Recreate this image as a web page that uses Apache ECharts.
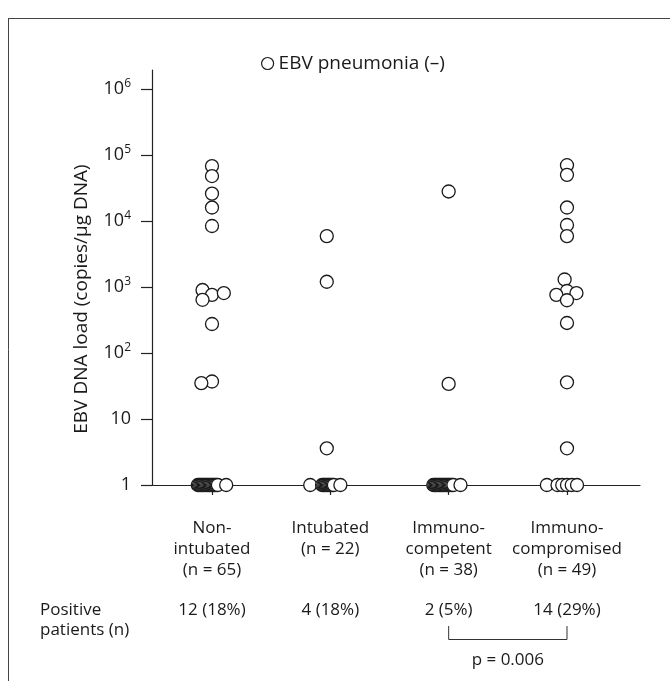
<!DOCTYPE html>
<html>
<head>
<meta charset="utf-8">
<script src="https://cdn.jsdelivr.net/npm/echarts@6/dist/echarts.min.js"></script>
<style>
html, body { margin: 0; padding: 0; background: #fff; }
#main { width: 670px; height: 681px; }
</style>
</head>
<body>
<div id="main"></div>
<script>
// groups along the x axis (placed at 1, 2, 3, 4)
var groupNames = ['Non-\nintubated\n(n = 65)', 'Intubated\n(n = 22)', 'Immuno-\ncompetent\n(n = 38)', 'Immuno-\ncompromised\n(n = 49)'];
var positiveLabels = ['12 (18%)', '4 (18%)', '2 (5%)', '14 (29%)'];
var yTicks = [1, 10, 100, 1000, 10000, 100000, 1000000];

// positive patients: EBV DNA load and small sideways shift from group centre
var nonIntubatedLoad  = [68000, 48000, 26000, 16000, 8400, 900, 760, 810, 640, 275, 37, 35];
var nonIntubatedShift = [0, 0, 0, 0, 0, -0.08, 0, 0.1, -0.08, 0, 0, -0.09];
var intubatedLoad  = [5900, 1200, 3.6];
var intubatedShift = [-0.03, -0.03, -0.03];
var competentLoad  = [28000, 34];
var competentShift = [0, 0];
var compromisedLoad  = [70000, 50000, 16000, 8700, 5900, 1300, 870, 760, 810, 630, 285, 36, 3.6];
var compromisedShift = [0, 0, 0, 0, 0, -0.02, 0, -0.09, 0.08, 0, 0, 0, 0];

// negative patients sit on the "1" line, only their sideways shift differs
var nonIntubatedBase = [-0.12, -0.11, -0.1, -0.09, -0.08, -0.07, -0.06, -0.05, -0.04, -0.03, -0.02, -0.01, 0, 0.01, 0.02, 0.03, 0.04, 0.05, 0.12];
var intubatedBase    = [-0.17, -0.07, -0.06, -0.05, -0.04, -0.03, -0.02, -0.01, 0, 0.01, 0.02, 0.03, 0.085];
var competentBase    = [-0.13, -0.12, -0.11, -0.1, -0.09, -0.08, -0.07, -0.06, -0.05, -0.04, -0.03, -0.02, -0.01, 0, 0.01, 0.02, 0.03, 0.04, 0.1];
var compromisedBase  = [-0.17, -0.08, -0.04, 0, 0.04, 0.085];

var FONT = '"Open Sans", "Noto Sans", sans-serif';

function addGroup(list, pos, loads, shifts) {
    for (var i = 0; i < loads.length; i++) {
        list.push([pos + shifts[i], loads[i]]);
    }
}
function addBase(list, pos, shifts) {
    for (var i = 0; i < shifts.length; i++) {
        list.push([pos + shifts[i], 1]);
    }
}

var points = [];
addBase(points, 1, nonIntubatedBase);
addBase(points, 2, intubatedBase);
addBase(points, 3, competentBase);
addBase(points, 4, compromisedBase);
addGroup(points, 1, nonIntubatedLoad, nonIntubatedShift);
addGroup(points, 2, intubatedLoad, intubatedShift);
addGroup(points, 3, competentLoad, competentShift);
addGroup(points, 4, compromisedLoad, compromisedShift);

var dom = document.getElementById('main');
var myChart = echarts.init(dom);

var option = {
    animation: false,
    backgroundColor: '#fff',
    textStyle: { fontFamily: FONT, color: '#1a1a1a' },
    legend: {
        data: ['EBV pneumonia (\u2013)'],
        left: 256,
        top: 49,
        icon: 'circle',
        itemWidth: 12,
        itemHeight: 12,
        itemGap: 6,
        itemStyle: { color: '#fff', borderColor: '#1a1a1a', borderWidth: 1.2 },
        textStyle: { fontFamily: FONT, fontSize: 19, color: '#1a1a1a' }
    },
    grid: {
        left: 152,
        right: 30,
        top: 70,
        bottom: 196
    },
    xAxis: {
        type: 'value',
        min: 0.493,
        max: 4.617,
        splitLine: { show: false },
        axisLine: { lineStyle: { color: '#222', width: 1.2 } },
        axisTick: {
            customValues: [1, 2, 3, 4],
            length: 10,
            lineStyle: { color: '#222', width: 1.2 }
        },
        axisLabel: {
            customValues: [1, 2, 3, 4],
            margin: 33,
            fontFamily: FONT,
            fontSize: 17,
            lineHeight: 21,
            color: '#1a1a1a',
            formatter: function (v) { return groupNames[Math.round(v) - 1]; }
        }
    },
    yAxis: {
        type: 'log',
        logBase: 10,
        min: 1,
        max: 1940000,
        splitLine: { show: false },
        axisLine: { show: true, lineStyle: { color: '#222', width: 1.2 } },
        axisTick: {
            customValues: yTicks,
            length: 11,
            lineStyle: { color: '#222', width: 1.2 }
        },
        axisLabel: {
            customValues: yTicks,
            margin: 21,
            fontFamily: FONT,
            fontSize: 18,
            color: '#1a1a1a',
            formatter: function (v) {
                var e = Math.round(Math.log(v) / Math.LN10);
                if (e === 0) return '{b|1}';
                if (e === 1) return '{b|10}';
                return '{b|10}{s|' + e + '}';
            },
            rich: {
                b: { fontFamily: FONT, fontSize: 18, lineHeight: 22, color: '#1a1a1a' },
                s: { fontFamily: FONT, fontSize: 12, lineHeight: 12, verticalAlign: 'top', color: '#1a1a1a' }
            }
        }
    },
    series: [{
        name: 'EBV pneumonia (\u2013)',
        type: 'scatter',
        symbol: 'circle',
        symbolSize: 13,
        clip: false,
        itemStyle: { color: '#fff', borderColor: '#1a1a1a', borderWidth: 1.3, opacity: 1 },
        emphasis: { disabled: true },
        data: points
    }]
};

if (option && typeof option === "object") {
    myChart.setOption(option, true);
}

// frame, axis title, "Positive patients" row, bracket and p value
var els = [
    { type: 'line', shape: { x1: 8, y1: 18.5, x2: 670, y2: 18.5 }, style: { stroke: '#444', lineWidth: 1 } },
    { type: 'line', shape: { x1: 8.5, y1: 18, x2: 8.5, y2: 681 }, style: { stroke: '#444', lineWidth: 1 } },
    { type: 'text', x: 82, y: 299, rotation: Math.PI / 2,
      style: { text: 'EBV DNA load (copies/\u00b5g DNA)', font: '19px ' + FONT, fill: '#1a1a1a', align: 'center', verticalAlign: 'middle' } },
    { type: 'text', x: 40, y: 610, style: { text: 'Positive', font: '17px ' + FONT, fill: '#1a1a1a', verticalAlign: 'middle' } },
    { type: 'text', x: 40, y: 630, style: { text: 'patients (n)', font: '17px ' + FONT, fill: '#1a1a1a', verticalAlign: 'middle' } }
];
var xs = [];
for (var i = 0; i < positiveLabels.length; i++) {
    xs.push(myChart.convertToPixel({ xAxisIndex: 0 }, i + 1));
    els.push({
        type: 'text', x: xs[i], y: 610,
        style: { text: positiveLabels[i], font: '17px ' + FONT, fill: '#1a1a1a', align: 'center', verticalAlign: 'middle' }
    });
}
els.push({
    type: 'polyline',
    shape: { points: [[xs[2], 626], [xs[2], 639.5], [xs[3], 639.5], [xs[3], 626]] },
    style: { stroke: '#333', lineWidth: 1, fill: null }
});
els.push({
    type: 'text', x: (xs[2] + xs[3]) / 2, y: 660,
    style: { text: 'p = 0.006', font: '17px ' + FONT, fill: '#1a1a1a', align: 'center', verticalAlign: 'middle' }
});
myChart.setOption({ graphic: els });
</script>
</body>
</html>
